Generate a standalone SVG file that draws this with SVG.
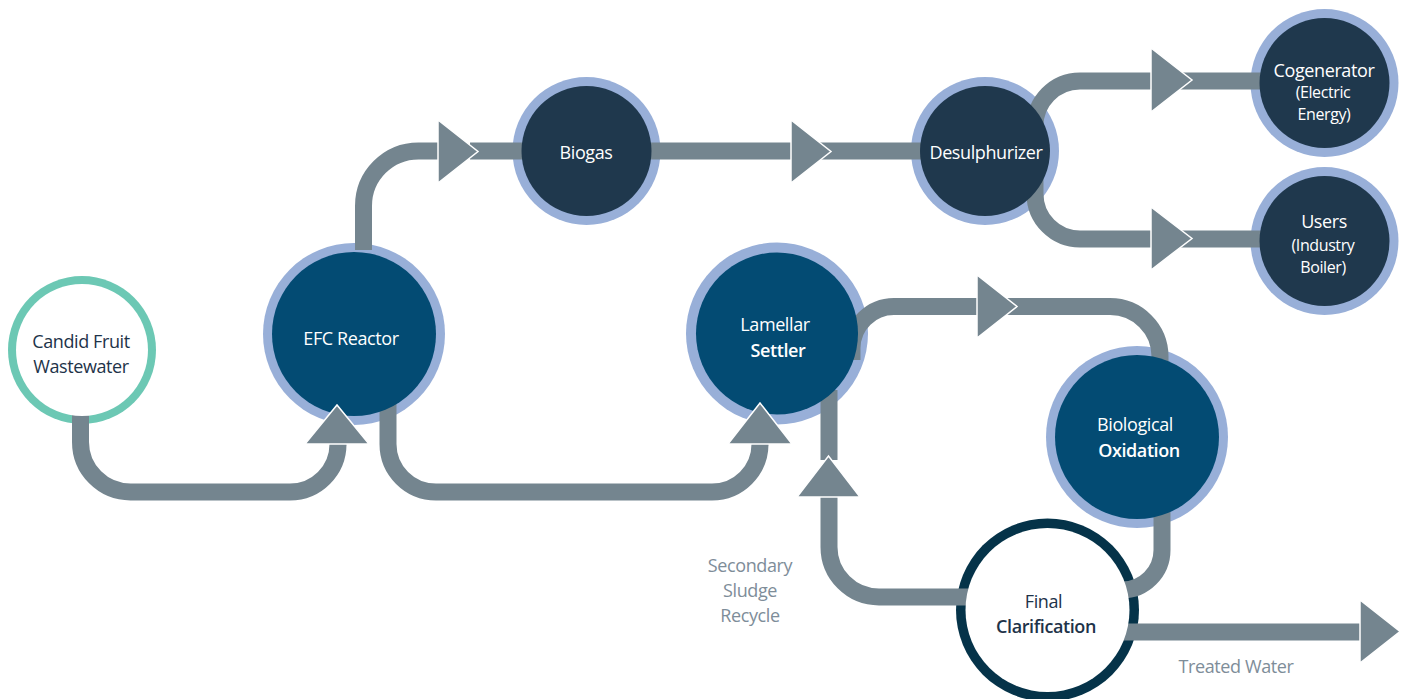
<svg xmlns="http://www.w3.org/2000/svg" width="1405" height="699" viewBox="0 0 1405 699">
<style>
.pipe{fill:none;stroke:#74858F;stroke-width:17}
.arrow{fill:#74858F;stroke:#FFFFFF;stroke-width:1.5;stroke-linejoin:miter}
.ring{fill:#98AFD8}
.dark{fill:#1F384D}
.blue{fill:#034B73}
.t{font-family:"Open Sans","Noto Sans","Liberation Sans",sans-serif;font-size:18px;letter-spacing:-0.4px;text-anchor:middle}
.s{font-size:16px;letter-spacing:-0.4px}
.w{fill:#FFFFFF}
.d{fill:#1E3349}
.g{fill:#7E8D99}
.b{font-weight:600}
</style>
<rect width="1405" height="699" fill="#FFFFFF"/>

<!-- outer rings (drawn under pipes) -->
<g id="rings">
<circle cx="82" cy="350" r="74" fill="#6CC8B4"/>
<circle cx="354" cy="334" r="91" class="ring"/>
<circle cx="586.5" cy="151" r="74" class="ring"/>
<circle cx="985" cy="151" r="74" class="ring"/>
<circle cx="1324.5" cy="83" r="74" class="ring"/>
<circle cx="1324.5" cy="241" r="74" class="ring"/>
<circle cx="777" cy="333.5" r="91" class="ring"/>
<circle cx="1137" cy="437" r="91" class="ring"/>
<circle cx="1047.5" cy="610" r="91.5" fill="#053349"/>
</g>

<g id="connectors">
<path class="pipe" d="M80.5 410 V442 A50 50 0 0 0 130.5 492 H290 A48 48 0 0 0 338 444 V446"/>
<path class="pipe" d="M388 400 V444 A48 48 0 0 0 436 492 H712 A48 48 0 0 0 760 444 V446"/>
<path class="pipe" d="M363.5 250 V206 A55 55 0 0 1 418.5 151 H460"/>
<path class="pipe" d="M470 151 H530"/>
<path class="pipe" d="M640 151 H940"/>
<path class="pipe" d="M960 151 H1035 M1035 151 V127 A45 45 0 0 1 1080 81 H1270"/>
<path class="pipe" d="M1035 151 V194 A45 45 0 0 0 1080 239 H1270"/>
<path class="pipe" d="M852 360 V348 A42 42 0 0 1 894 306.5 H1110 A50 50 0 0 1 1160 356.5 V370"/>
<path class="pipe" d="M1162 500 V550 A40 40 0 0 1 1122 590 H1060"/>
<path class="pipe" d="M829 390 V460"/>
<path class="pipe" d="M1040 597 H879 A50 50 0 0 1 829 547 V496"/>
<path class="pipe" d="M1050 632 H1362"/>
<polygon class="arrow" points="438,120 478,151.5 438,183"/>
<polygon class="arrow" points="791,120 831,151.5 791,183"/>
<polygon class="arrow" points="1151,48 1192,80 1151,112"/>
<polygon class="arrow" points="1151,207 1192,238.5 1151,270"/>
<polygon class="arrow" points="977,275 1017,306.5 977,338"/>
<polygon class="arrow" points="1360,600 1400,631.5 1360,663"/>
</g>

<g id="candid">
<circle cx="82" cy="350" r="66" fill="#FFFFFF"/>
<text class="t d" x="81" y="348">Candid Fruit</text>
<text class="t d" x="81" y="373">Wastewater</text>
</g>

<g id="efc">
<circle cx="354" cy="334" r="82" class="blue"/>
<text class="t w" x="351" y="345">EFC Reactor</text>
</g>

<g id="biogas">
<circle cx="586.5" cy="151" r="65" class="dark"/>
<text class="t w" x="586" y="159">Biogas</text>
</g>

<g id="desulphurizer">
<circle cx="985" cy="151" r="65" class="dark"/>
<text class="t w" x="986" y="159">Desulphurizer</text>
</g>

<g id="cogenerator">
<circle cx="1324.5" cy="83" r="65" class="dark"/>
<text class="t w" x="1324" y="76.5">Cogenerator</text>
<text class="t s w" x="1323" y="98">(Electric</text>
<text class="t s w" x="1324" y="120">Energy)</text>
</g>

<g id="users">
<circle cx="1324.5" cy="241" r="65" class="dark"/>
<text class="t w" x="1324" y="228">Users</text>
<text class="t s w" x="1323" y="251">(Industry</text>
<text class="t s w" x="1323" y="273">Boiler)</text>
</g>

<g id="lamellar">
<circle cx="777" cy="333.5" r="81" class="blue"/>
<text class="t w" x="775" y="331">Lamellar</text>
<text class="t w b" x="778" y="357">Settler</text>
</g>

<g id="biological">
<circle cx="1137" cy="437" r="82" class="blue"/>
<text class="t w" x="1135" y="431">Biological</text>
<text class="t w b" x="1139" y="457">Oxidation</text>
</g>

<g id="final">
<circle cx="1047.5" cy="610" r="82" fill="#FFFFFF"/>
<text class="t d" x="1043.5" y="608">Final</text>
<text class="t d b" x="1046" y="633">Clarification</text>
</g>

<g id="arrows-over">
<polygon class="arrow" points="305,444 337,405 369,444"/>
<polygon class="arrow" points="728,444 760,403 792,444"/>
<polygon class="arrow" points="797,497 828.5,456 860,497"/>
</g>

<g id="labels">
<text class="t g" x="750" y="572">Secondary</text>
<text class="t g" x="750" y="597">Sludge</text>
<text class="t g" x="750" y="622">Recycle</text>
<text class="t g" x="1236" y="673">Treated Water</text>
</g>
</svg>
